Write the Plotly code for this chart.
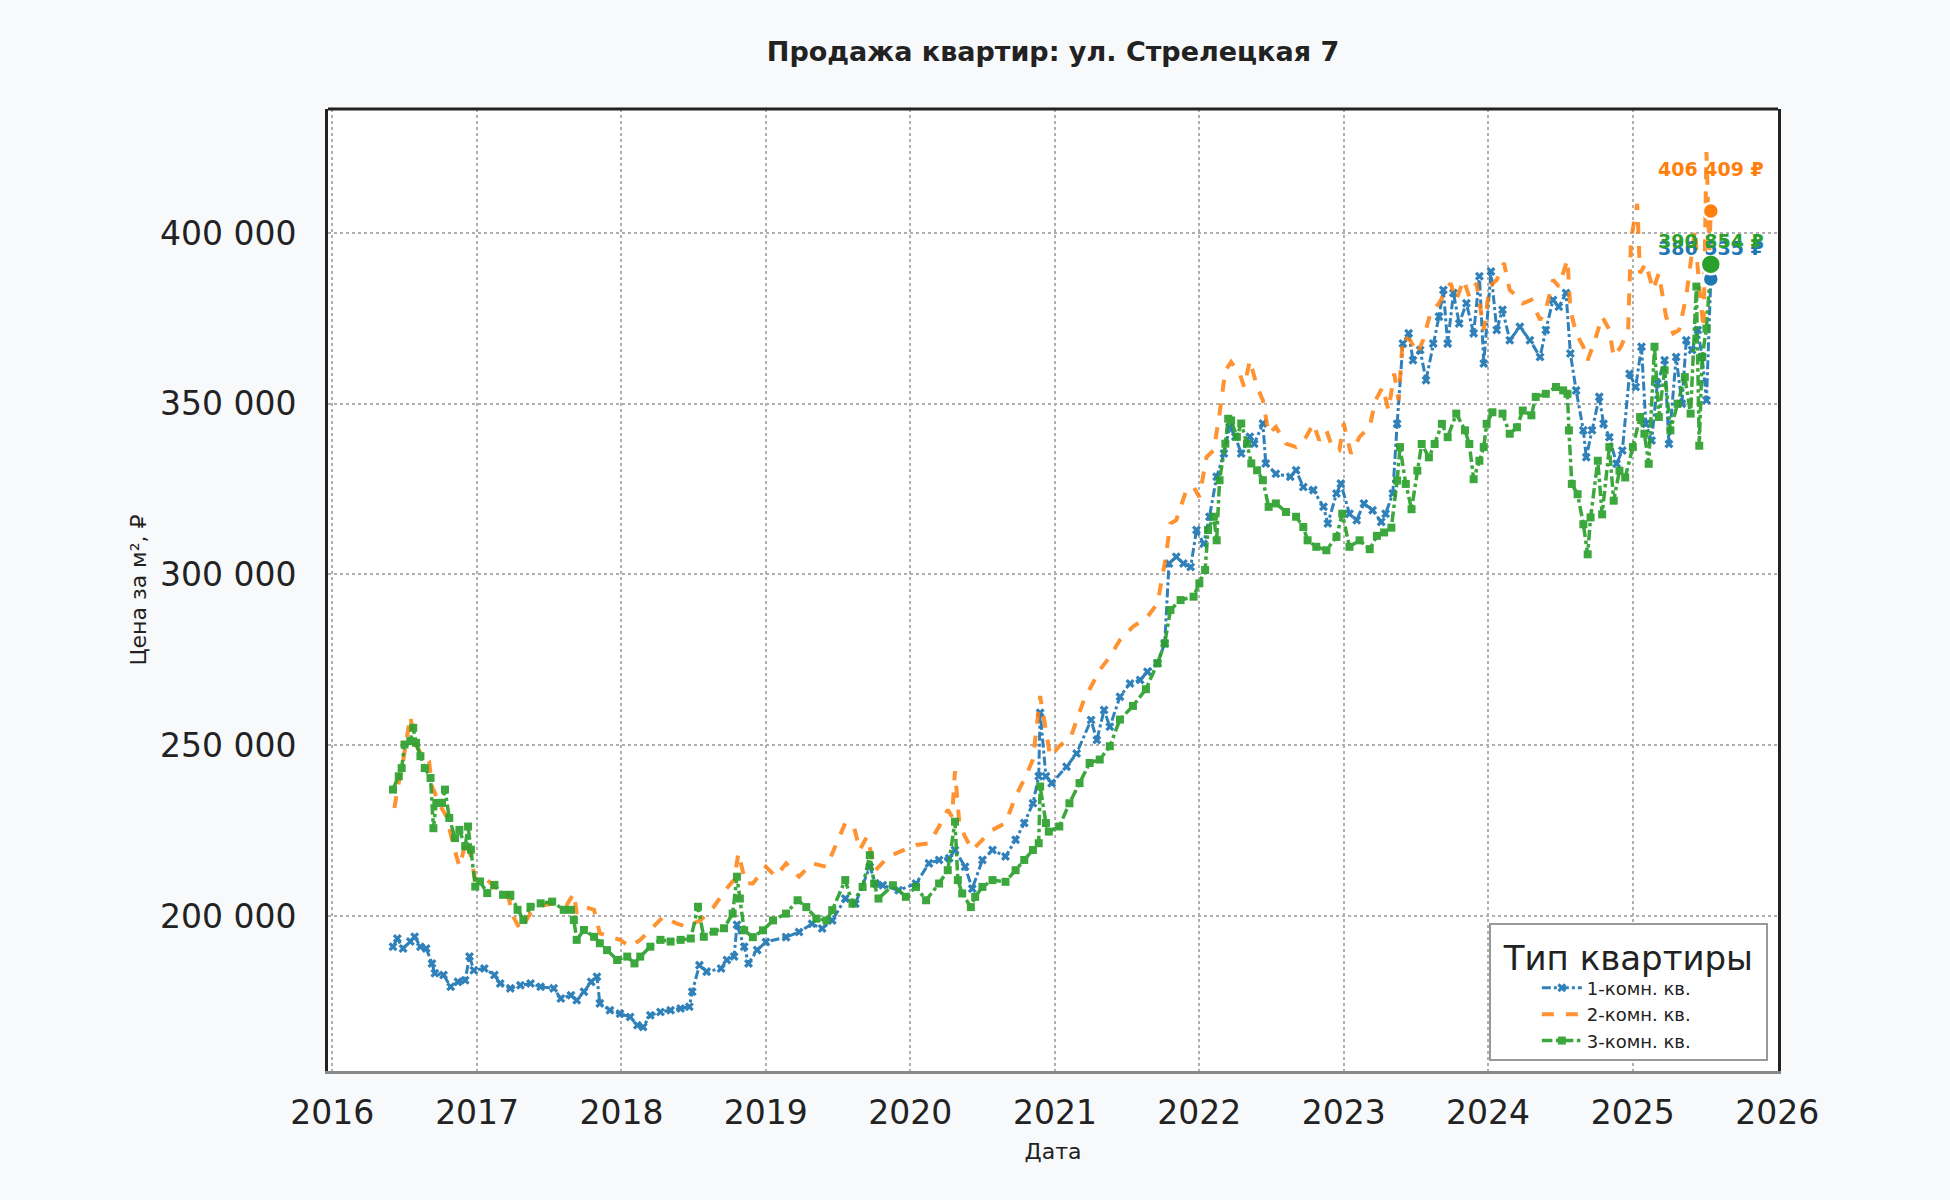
import plotly.graph_objs as go
from datetime import datetime, timedelta

# Price per m2 (RUB) by apartment type; time as decimal year
t_1k = [2016.42, 2016.45, 2016.49, 2016.54, 2016.57, 2016.61, 2016.65, 2016.69, 2016.71, 2016.77,
        2016.82, 2016.87, 2016.92, 2016.95, 2016.98, 2017.05, 2017.12, 2017.16, 2017.23, 2017.30,
        2017.37, 2017.44, 2017.53, 2017.58, 2017.65, 2017.69, 2017.74, 2017.79, 2017.83, 2017.85,
        2017.92, 2017.99, 2018.06, 2018.11, 2018.15, 2018.20, 2018.27, 2018.34, 2018.41, 2018.47,
        2018.49, 2018.54, 2018.59, 2018.69, 2018.73, 2018.78, 2018.80, 2018.85, 2018.88, 2018.94,
        2019.00, 2019.14, 2019.23, 2019.32, 2019.39, 2019.46, 2019.55, 2019.62, 2019.72, 2019.76,
        2019.81, 2019.92, 2020.04, 2020.13, 2020.20, 2020.27, 2020.31, 2020.38, 2020.43, 2020.50,
        2020.57, 2020.66, 2020.73, 2020.79, 2020.85, 2020.89, 2020.90, 2020.94, 2020.98, 2021.08,
        2021.15, 2021.25, 2021.29, 2021.34, 2021.38, 2021.45, 2021.52, 2021.59, 2021.64, 2021.71,
        2021.76, 2021.79, 2021.84, 2021.89, 2021.94, 2021.98, 2022.03, 2022.07, 2022.12, 2022.17,
        2022.21, 2022.25, 2022.29, 2022.35, 2022.38, 2022.44, 2022.46, 2022.53, 2022.63, 2022.67,
        2022.72, 2022.79, 2022.86, 2022.89, 2022.95, 2022.98, 2023.04, 2023.09, 2023.14, 2023.20,
        2023.26, 2023.29, 2023.34, 2023.37, 2023.41, 2023.45, 2023.48, 2023.53, 2023.57, 2023.62,
        2023.66, 2023.69, 2023.72, 2023.76, 2023.80, 2023.85, 2023.90, 2023.94, 2023.97, 2024.02,
        2024.06, 2024.10, 2024.15, 2024.22, 2024.29, 2024.36, 2024.40, 2024.45, 2024.49, 2024.54,
        2024.57, 2024.61, 2024.66, 2024.68, 2024.72, 2024.77, 2024.80, 2024.84, 2024.89, 2024.93,
        2024.98, 2025.02, 2025.06, 2025.09, 2025.13, 2025.17, 2025.22, 2025.25, 2025.30, 2025.34,
        2025.37, 2025.41, 2025.45, 2025.48, 2025.51, 2025.54]
price_1k = [191000, 193400, 190500, 192500, 193900, 191000, 190500, 186100, 183200, 182700,
            179300, 180700, 181200, 188100, 184100, 184600, 182700, 180200, 178800, 179700,
            180200, 179300, 178800, 175800, 176800, 175300, 177800, 180700, 182200, 174400,
            172400, 171400, 170400, 168000, 167500, 170900, 171900, 172400, 172900, 173400,
            177800, 185600, 183700, 184600, 187100, 188100, 197400, 191000, 186100, 190000,
            192400, 193800, 195300, 197700, 196300, 198700, 205100, 203600, 214400, 209500,
            209000, 207500, 209500, 215400, 216400, 216900, 219300, 214400, 208000, 216400,
            219300, 217400, 222300, 227200, 233000, 240900, 259500, 240900, 238900, 243700,
            247600, 257400, 251500, 260300, 255400, 264200, 268100, 269100, 271500, 274000,
            279800, 303200, 305200, 303200, 302200, 313000, 309000, 316900, 328600, 335400,
            343200, 340300, 335400, 340300, 338300, 344200, 332500, 329500, 328600, 330500,
            325600, 324700, 319800, 314900, 323700, 326600, 317800, 315900, 320800, 318800,
            315400, 317800, 323700, 344100, 367600, 370600, 362700, 365700, 356900, 367600,
            375500, 383300, 367600, 382400, 373500, 379400, 370600, 387300, 361800, 388700,
            371600, 377500, 368600, 372500, 368600, 363700, 371600, 380400, 378400, 382400,
            364700, 353900, 342200, 334300, 342200, 352000, 344100, 340200, 332400, 336300,
            358800, 354900, 366700, 344100, 339200, 355900, 362700, 338200, 363700, 350000,
            368600, 365700, 371600, 363700, 351000, 386535]

t_2k = [2016.43, 2016.45, 2016.49, 2016.54, 2016.57, 2016.63, 2016.67, 2016.69, 2016.75, 2016.79,
        2016.84, 2016.88, 2016.93, 2016.96, 2016.99, 2017.07, 2017.14, 2017.21, 2017.25, 2017.30,
        2017.37, 2017.46, 2017.55, 2017.62, 2017.67, 2017.69, 2017.74, 2017.81, 2017.85, 2017.92,
        2017.99, 2018.06, 2018.13, 2018.20, 2018.29, 2018.38, 2018.45, 2018.55, 2018.64, 2018.72,
        2018.78, 2018.81, 2018.86, 2018.91, 2019.00, 2019.07, 2019.14, 2019.23, 2019.32, 2019.42,
        2019.48, 2019.55, 2019.61, 2019.65, 2019.70, 2019.76, 2019.85, 2019.95, 2020.04, 2020.13,
        2020.20, 2020.26, 2020.29, 2020.31, 2020.34, 2020.38, 2020.43, 2020.50, 2020.57, 2020.66,
        2020.73, 2020.80, 2020.85, 2020.90, 2020.94, 2020.97, 2021.03, 2021.11, 2021.20, 2021.31,
        2021.38, 2021.45, 2021.54, 2021.64, 2021.71, 2021.76, 2021.80, 2021.84, 2021.91, 2021.96,
        2022.00, 2022.05, 2022.10, 2022.14, 2022.18, 2022.22, 2022.28, 2022.31, 2022.35, 2022.40,
        2022.44, 2022.48, 2022.53, 2022.60, 2022.67, 2022.74, 2022.79, 2022.83, 2022.88, 2022.92,
        2022.97, 2023.00, 2023.05, 2023.11, 2023.18, 2023.22, 2023.27, 2023.31, 2023.35, 2023.38,
        2023.41, 2023.46, 2023.51, 2023.55, 2023.60, 2023.66, 2023.70, 2023.74, 2023.78, 2023.83,
        2023.87, 2023.92, 2023.97, 2024.01, 2024.06, 2024.11, 2024.15, 2024.20, 2024.24, 2024.30,
        2024.36, 2024.40, 2024.45, 2024.49, 2024.55, 2024.57, 2024.61, 2024.66, 2024.69, 2024.74,
        2024.79, 2024.84, 2024.87, 2024.92, 2024.97, 2024.99, 2025.03, 2025.05, 2025.09, 2025.14,
        2025.18, 2025.23, 2025.28, 2025.32, 2025.37, 2025.40, 2025.43, 2025.46, 2025.49, 2025.51,
        2025.53, 2025.54]
price_2k = [231600, 237000, 245300, 258500, 250700, 246300, 245300, 238000, 232100, 229200,
            220400, 214500, 222300, 217400, 210600, 210600, 207600, 206600, 199800, 195900,
            200800, 203200, 203700, 203200, 206600, 200800, 202700, 201800, 194900, 193900,
            193000, 191000, 193000, 195900, 199800, 197800, 196900, 198800, 202700, 207600,
            210600, 218400, 209600, 209500, 214400, 211500, 215400, 211500, 215400, 214400,
            220300, 227200, 226200, 219300, 223200, 213400, 217400, 219300, 220800, 221300,
            226200, 231100, 229100, 242400, 227200, 223200, 219300, 222300, 225200, 227200,
            235000, 240900, 245800, 264400, 253600, 246700, 249700, 252500, 263200, 272000,
            275900, 280800, 284700, 287600, 291500, 303200, 314900, 315900, 324700, 325600,
            322700, 334400, 336400, 347100, 359700, 362200, 358800, 354900, 362700, 354900,
            351000, 341200, 343200, 338300, 337300, 340300, 344200, 339300, 342200, 337300,
            336400, 344200, 335400, 340300, 343200, 351000, 354900, 348100, 358800, 351000,
            369600, 368600, 364700, 368600, 376500, 379400, 382400, 385300, 380400, 386300,
            381400, 385300, 371600, 384300, 386300, 391200, 383300, 381400, 379400, 380400,
            374500, 377500, 386300, 384300, 392200, 377500, 370600, 366700, 362700, 368600,
            375500, 371600, 363700, 366700, 371600, 398000, 408500, 388200, 391200, 383300,
            388200, 375500, 370600, 371600, 381400, 392200, 401000, 384000, 372000, 423700,
            395000, 406409]

t_3k = [2016.42, 2016.46, 2016.48, 2016.50, 2016.54, 2016.56, 2016.58, 2016.61, 2016.64, 2016.68,
        2016.70, 2016.72, 2016.76, 2016.78, 2016.81, 2016.85, 2016.88, 2016.92, 2016.94, 2016.96,
        2016.99, 2017.02, 2017.07, 2017.12, 2017.18, 2017.23, 2017.28, 2017.32, 2017.37, 2017.44,
        2017.52, 2017.60, 2017.65, 2017.67, 2017.69, 2017.74, 2017.81, 2017.85, 2017.90, 2017.97,
        2018.04, 2018.09, 2018.13, 2018.20, 2018.27, 2018.34, 2018.41, 2018.48, 2018.53, 2018.57,
        2018.64, 2018.71, 2018.77, 2018.80, 2018.82, 2018.85, 2018.91, 2018.98, 2019.05, 2019.14,
        2019.22, 2019.28, 2019.35, 2019.42, 2019.46, 2019.55, 2019.60, 2019.67, 2019.72, 2019.75,
        2019.78, 2019.88, 2019.97, 2020.04, 2020.11, 2020.20, 2020.26, 2020.31, 2020.33, 2020.36,
        2020.42, 2020.45, 2020.50, 2020.57, 2020.66, 2020.73, 2020.79, 2020.85, 2020.89, 2020.90,
        2020.94, 2020.96, 2021.03, 2021.10, 2021.17, 2021.24, 2021.31, 2021.38, 2021.45, 2021.54,
        2021.63, 2021.71, 2021.76, 2021.80, 2021.87, 2021.96, 2022.00, 2022.04, 2022.06, 2022.10,
        2022.12, 2022.14, 2022.18, 2022.20, 2022.22, 2022.26, 2022.29, 2022.33, 2022.36, 2022.40,
        2022.44, 2022.48, 2022.53, 2022.60, 2022.67, 2022.72, 2022.75, 2022.81, 2022.88, 2022.95,
        2022.99, 2023.04, 2023.11, 2023.18, 2023.23, 2023.28, 2023.33, 2023.37, 2023.39, 2023.43,
        2023.47, 2023.51, 2023.54, 2023.59, 2023.63, 2023.68, 2023.72, 2023.78, 2023.84, 2023.87,
        2023.90, 2023.94, 2023.97, 2023.99, 2024.03, 2024.10, 2024.15, 2024.20, 2024.24, 2024.30,
        2024.33, 2024.40, 2024.47, 2024.52, 2024.55, 2024.56, 2024.58, 2024.62, 2024.66, 2024.69,
        2024.71, 2024.76, 2024.79, 2024.84, 2024.87, 2024.91, 2024.95, 2025.00, 2025.05, 2025.08,
        2025.11, 2025.15, 2025.18, 2025.22, 2025.26, 2025.31, 2025.36, 2025.40, 2025.44, 2025.46,
        2025.48, 2025.51, 2025.54]
price_3k = [237000, 240900, 243300, 250200, 251200, 255100, 250700, 246800, 243300, 240400,
            225700, 233100, 233100, 237000, 228700, 222800, 225200, 220400, 226200, 219400,
            208600, 210100, 206700, 209100, 206200, 206200, 201800, 198800, 202700, 203700,
            204200, 201800, 201800, 198800, 193000, 195900, 193900, 192000, 190000, 187100,
            188100, 186100, 188100, 191000, 193000, 192500, 193000, 193400, 202700, 193900,
            195400, 196400, 200700, 211500, 205100, 195800, 193800, 195800, 198700, 200700,
            204600, 202600, 199200, 198700, 201700, 210500, 203600, 208500, 217800, 209500,
            205100, 209000, 205600, 208500, 204600, 209500, 213400, 227600, 210500, 206600,
            202600, 205600, 208500, 210500, 210000, 213400, 216400, 219300, 221300, 237900,
            227200, 224700, 226200, 233000, 238900, 244800, 245800, 249700, 257500, 261500,
            266400, 274000, 279800, 289600, 292500, 293500, 297400, 301300, 313000, 316900,
            310000, 327600, 338300, 345600, 345100, 340300, 344200, 338300, 332500, 330500,
            327600, 319800, 320800, 318300, 316900, 313900, 310000, 308100, 307100, 311000,
            317800, 308100, 310000, 307400, 311300, 312300, 313700, 327500, 337300, 326500,
            319100, 330400, 338200, 334300, 338200, 344100, 340200, 347100, 342200, 338200,
            327900, 333300, 337300, 344100, 347500, 347100, 341200, 343100, 348000, 346600,
            352000, 352900, 354900, 353900, 352900, 342200, 326500, 323500, 314700, 305900,
            316700, 333300, 317600, 337300, 321600, 330400, 328400, 337300, 346100, 341200,
            332400, 366700, 346100, 359800, 342200, 350000, 357800, 347100, 384300, 337700,
            363700, 372000, 390854]

series_names = ['1-комн. кв.', '2-комн. кв.', '3-комн. кв.']
series_colors = ['#1f77b4', '#ff7f0e', '#2ca02c']
year_ticks = list(range(2016, 2027))
price_ticks = [200000, 250000, 300000, 350000, 400000]


def to_date(y):
    # decimal year -> datetime
    year = int(y)
    return datetime(year, 1, 1) + timedelta(days=(y - year) * 365)


x_1k = [to_date(y) for y in t_1k]
x_2k = [to_date(y) for y in t_2k]
x_3k = [to_date(y) for y in t_3k]

FONT = 'DejaVu Sans'
PAGE_BG = '#f8f9fb'

fig = go.Figure()

# Main lines
fig.add_trace(go.Scatter(
    x=x_1k, y=price_1k, name=series_names[0], mode='lines+markers',
    line=dict(color=series_colors[0], width=3, dash='dashdot'),
    marker=dict(symbol='x', size=8, color=series_colors[0]),
    opacity=0.92
))
fig.add_trace(go.Scatter(
    x=x_2k, y=price_2k, name=series_names[1], mode='lines',
    line=dict(color=series_colors[1], width=4, dash='dash'),
    opacity=0.85
))
fig.add_trace(go.Scatter(
    x=x_3k, y=price_3k, name=series_names[2], mode='lines+markers',
    line=dict(color=series_colors[2], width=3.5, dash='dashdot'),
    marker=dict(symbol='square', size=8, color=series_colors[2]),
    opacity=0.92
))

# Last value dots + labels
last_points = [
    (x_2k[-1], price_2k[-1], series_colors[1], 16, 42),
    (x_1k[-1], price_1k[-1], series_colors[0], 16, 31),
    (x_3k[-1], price_3k[-1], series_colors[2], 20, 23),
]
annotations = []
for x_last, y_last, col, size, shift in last_points:
    fig.add_trace(go.Scatter(
        x=[x_last], y=[y_last], mode='markers', showlegend=False, hoverinfo='skip',
        marker=dict(color=col, size=size, line=dict(color='white', width=2.5))
    ))
    annotations.append(dict(
        x=x_last, y=y_last, yshift=shift, showarrow=False,
        text=f"{y_last:,}".replace(',', ' ') + ' ₽',
        font=dict(family=FONT, size=19, color=col, weight='bold'),
        xanchor='center', yanchor='middle'
    ))

fig.update_layout(
    width=1950, height=1200,
    paper_bgcolor=PAGE_BG, plot_bgcolor='white',
    font=dict(family=FONT, color='#222222'),
    separators='. ',
    margin=dict(l=328, r=172, t=109, b=129),
    title=dict(
        text='<b>Продажа квартир: ул. Стрелецкая 7</b>',
        font=dict(family=FONT, size=27, color='#222222'),
        x=0.5, xref='paper', xanchor='center',
        y=1 - 52 / 1200, yref='container', yanchor='middle'
    ),
    xaxis=dict(
        type='date', range=['2015-12-21', '2026-01-03'],
        tickvals=[datetime(y, 1, 1) for y in year_ticks],
        ticktext=[str(y) for y in year_ticks],
        tickfont=dict(size=33), ticks='', ticklabelstandoff=10,
        showgrid=True, gridcolor='#b0b0b0', griddash='dot', gridwidth=2,
        showline=True, linecolor='#888888', linewidth=3, mirror=False,
        zeroline=False,
        title=dict(text='Дата', font=dict(size=22), standoff=14)
    ),
    yaxis=dict(
        range=[154600, 436300],
        tickvals=price_ticks, tickformat=',d',
        tickfont=dict(size=33), ticks='', ticklabelstandoff=22,
        showgrid=True, gridcolor='#b0b0b0', griddash='dot', gridwidth=2,
        showline=True, linecolor='#222222', linewidth=3, mirror=True,
        zeroline=False,
        title=dict(text='Цена за м², ₽', font=dict(size=22), standoff=8)
    ),
    legend=dict(
        title=dict(text='\u00a0Тип квартиры\u00a0', font=dict(size=34), side='top center'),
        font=dict(size=18),
        x=0.993, y=0.01, xanchor='right', yanchor='bottom',
        bgcolor='white', bordercolor='#999999', borderwidth=2,
        itemwidth=40, indentation=46
    ),
    annotations=annotations,
    shapes=[dict(type='line', xref='paper', yref='paper', x0=0, x1=1, y0=1, y1=1,
                 line=dict(color='#222222', width=3))]
)

# drop the default page margin so the figure fills the window
fig.write_html('out.html', config={'displayModeBar': False}, post_script=(
    "document.body.style.margin='0';"
    "document.body.style.background='" + PAGE_BG + "';"
))
